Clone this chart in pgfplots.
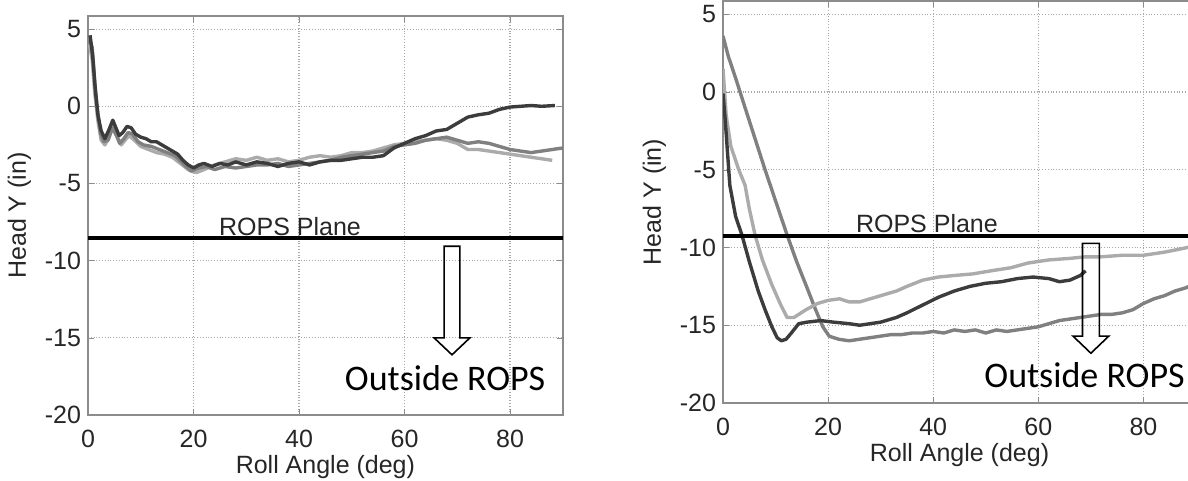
\documentclass[border=0pt]{standalone}
\usepackage{pgfplots}
\pgfplotsset{compat=1.18}
\usepackage{fontspec}
\setmainfont{Liberation Sans}
\newfontfamily\calibri{Carlito}

\definecolor{TraceDark}{HTML}{3C3C3C}
\definecolor{TraceMid}{HTML}{808080}
\definecolor{TraceLight}{HTML}{ABABAB}
\definecolor{FrameGray}{HTML}{8C8C8C}
\definecolor{GridGray}{HTML}{A8A8A8}

\pgfplotsset{
  rollpanel/.style={
    scale only axis,
    anchor=south west,
    xmin=0, xmax=90, ymin=-20, ymax=5.85,
    xtick={0,20,...,80}, ytick={-20,-15,...,5},
    grid=major,
    major grid style={densely dotted, GridGray, line width=0.6pt},
    axis line style={FrameGray, line width=0.9pt},
    tick style={FrameGray},
    tick align=inside, major tick length=3pt,
    ticklabel style={font=\fontsize{12.5}{14}\selectfont, text=black!85},
    xticklabel style={yshift=-4pt},
    /pgf/number format/assume math mode=true,
    xlabel={Roll Angle (deg)}, ylabel={Head Y (in)},
    label style={font=\fontsize{12.5}{14}\selectfont, text=black!85},
    xlabel style={yshift=3pt},
  },
  trace/.style={line width=1.7pt, line join=round},
  rops/.style={black, line width=2pt},
}

\begin{document}
\begin{tikzpicture}
\useasboundingbox (0,0) rectangle (594pt,240.5pt);
\clip (0,0) rectangle (594pt,240.5pt);

% left panel
\begin{axis}[rollpanel, at={(44pt,33pt)}, width=237.4pt, height=199.5pt]
  \addplot[trace, TraceLight] table {
    0.3 4.0
    0.8 3.0
    1.3 0.8
    1.9 -1.0
    2.5 -2.2
    3.2 -2.5
    4.0 -2.0
    4.8 -1.2
    5.6 -2.0
    6.3 -2.5
    7.0 -2.2
    7.8 -1.9
    8.8 -2.2
    10.0 -2.6
    11.5 -2.8
    13.0 -3.0
    14.5 -3.1
    16.0 -3.3
    17.5 -3.7
    19.0 -4.1
    20.5 -4.3
    22.0 -4.1
    24.0 -3.8
    26.0 -3.6
    28.0 -3.4
    30.0 -3.5
    32.0 -3.3
    34.0 -3.5
    36.0 -3.4
    38.0 -3.6
    40.0 -3.5
    42.0 -3.3
    44.0 -3.2
    46.0 -3.3
    48.0 -3.2
    50.0 -3.0
    52.0 -3.0
    54.0 -2.9
    56.0 -2.7
    58.0 -2.5
    60.0 -2.4
    62.0 -2.3
    64.0 -2.2
    66.0 -2.1
    68.0 -2.2
    70.0 -2.4
    72.0 -2.8
    74.0 -2.8
    76.0 -2.9
    78.0 -3.0
    80.0 -3.1
    82.0 -3.2
    84.0 -3.3
    86.0 -3.4
    88.0 -3.5
  };
  \addplot[trace, TraceMid] table {
    0.3 4.3
    0.8 3.8
    1.3 1.5
    1.8 -0.3
    2.4 -1.8
    3.0 -2.3
    3.8 -2.2
    4.6 -1.4
    5.4 -1.9
    6.0 -2.4
    6.8 -2.1
    7.6 -1.7
    8.4 -1.8
    9.5 -2.3
    10.5 -2.5
    12.0 -2.6
    13.5 -2.8
    15.0 -3.0
    16.5 -3.2
    18.0 -3.7
    19.5 -4.2
    21.0 -4.0
    22.5 -3.9
    24.0 -4.1
    26.0 -3.9
    28.0 -4.0
    30.0 -3.9
    32.0 -3.8
    34.0 -3.8
    36.0 -3.7
    38.0 -3.9
    40.0 -3.8
    42.0 -3.7
    44.0 -3.6
    46.0 -3.5
    48.0 -3.3
    50.0 -3.2
    52.0 -3.1
    54.0 -3.0
    56.0 -2.9
    58.0 -2.6
    60.0 -2.5
    62.0 -2.4
    64.0 -2.2
    66.0 -2.1
    68.0 -2.0
    70.0 -2.2
    72.0 -2.4
    74.0 -2.3
    76.0 -2.4
    78.0 -2.6
    80.0 -2.8
    82.0 -2.9
    84.0 -3.0
    86.0 -2.9
    88.0 -2.8
    90.0 -2.7
  };
  \addplot[trace, TraceDark] table {
    0.4 4.6
    0.9 3.2
    1.4 1.0
    1.9 -0.6
    2.5 -1.6
    3.2 -2.1
    4.0 -1.5
    4.7 -0.9
    5.3 -1.4
    5.9 -1.9
    6.6 -1.7
    7.4 -1.3
    8.2 -1.4
    9.0 -1.8
    10.0 -2.0
    11.0 -2.1
    12.0 -2.3
    13.0 -2.3
    14.0 -2.5
    15.0 -2.7
    16.0 -2.9
    17.0 -3.1
    18.0 -3.5
    19.0 -3.8
    20.0 -4.0
    21.0 -3.8
    22.0 -3.7
    23.5 -3.9
    25.0 -3.7
    26.5 -3.8
    28.0 -3.6
    30.0 -3.8
    32.0 -3.6
    34.0 -3.7
    36.0 -3.9
    38.0 -3.7
    40.0 -3.6
    42.0 -3.8
    44.0 -3.6
    46.0 -3.5
    48.0 -3.5
    50.0 -3.4
    52.0 -3.3
    54.0 -3.3
    56.0 -3.2
    58.0 -2.7
    60.0 -2.4
    62.0 -2.1
    64.0 -1.9
    66.0 -1.6
    68.0 -1.5
    70.0 -1.1
    72.0 -0.7
    74.0 -0.55
    76.0 -0.45
    78.0 -0.2
    80.0 -0.05
    82.0 0.0
    84.0 0.05
    86.0 0.0
    88.5 0.05
  };
  \addplot[rops] coordinates {(0,-8.55) (90,-8.55)};
  \node[anchor=base, yshift=1.3pt, font=\fontsize{12.5}{14}\selectfont, text=black!85]
    at (axis cs:38.3,-8.55) {ROPS Plane};
  \draw[black, line width=0.8pt, line join=miter]
    (axis cs:67.5,-9.07) -- (axis cs:70.5,-9.07) -- (axis cs:70.5,-15.0)
    -- (axis cs:72.4,-15.0) -- (axis cs:69,-16.1) -- (axis cs:65.6,-15.0)
    -- (axis cs:67.5,-15.0) -- cycle;
  \node[font=\calibri\fontsize{18}{20}\selectfont] at (axis cs:67.7,-17.6) {Outside ROPS};
\end{axis}

% right panel
\begin{axis}[rollpanel, at={(361.5pt,39pt)}, width=236.5pt, height=201pt]
  \addplot[trace, TraceMid] table {
    0 3.6
    1.0 2.3
    2.3 1.0
    4.0 -0.8
    6.0 -2.9
    8.0 -5.0
    10.0 -7.0
    12.2 -9.2
    14.0 -10.9
    16.0 -12.6
    17.5 -13.9
    19.0 -15.1
    20.2 -15.7
    22.0 -15.9
    24.0 -16.0
    26.0 -15.9
    28.0 -15.8
    30.0 -15.7
    32.0 -15.6
    34.0 -15.6
    36.0 -15.5
    38.0 -15.5
    40.0 -15.4
    42.0 -15.5
    44.0 -15.3
    46.0 -15.4
    48.0 -15.3
    50.0 -15.5
    52.0 -15.3
    54.0 -15.4
    56.0 -15.3
    58.0 -15.2
    60.0 -15.1
    62.0 -14.9
    64.0 -14.7
    66.0 -14.6
    68.0 -14.5
    70.0 -14.4
    72.0 -14.3
    74.0 -14.3
    76.0 -14.2
    78.0 -14.0
    80.0 -13.6
    82.0 -13.3
    84.0 -13.1
    86.0 -12.8
    88.0 -12.6
    90.0 -12.3
  };
  \addplot[trace, TraceLight] table {
    0 1.5
    0.6 -1.5
    1.5 -3.5
    3.0 -5.0
    4.2 -6.0
    5.0 -7.5
    6.1 -9.2
    7.5 -10.8
    9.3 -12.4
    11.0 -13.7
    12.2 -14.5
    13.5 -14.5
    15.8 -14.0
    18.0 -13.6
    20.0 -13.4
    22.2 -13.3
    24.0 -13.5
    26.0 -13.5
    28.0 -13.3
    30.0 -13.1
    33.0 -12.8
    35.0 -12.5
    38.0 -12.1
    41.0 -11.9
    44.0 -11.8
    47.5 -11.7
    51.0 -11.5
    54.8 -11.3
    58.0 -11.0
    62.0 -10.8
    66.0 -10.7
    69.0 -10.6
    72.0 -10.6
    76.0 -10.5
    80.0 -10.5
    84.0 -10.3
    88.4 -10.0
    90.0 -9.8
  };
  \addplot[trace, TraceDark] table {
    0 -0.1
    0.4 -1.7
    1.3 -6.0
    2.4 -8.0
    3.6 -9.2
    5.0 -10.9
    6.7 -12.8
    8.0 -14.0
    9.3 -15.1
    10.3 -15.8
    11.1 -16.0
    12.0 -15.9
    13.0 -15.5
    14.4 -14.9
    16.0 -14.8
    18.6 -14.7
    21.0 -14.8
    24.0 -14.9
    26.0 -15.0
    28.0 -14.9
    30.0 -14.8
    33.0 -14.5
    35.0 -14.2
    38.0 -13.7
    41.0 -13.2
    44.0 -12.8
    47.0 -12.5
    50.0 -12.3
    53.0 -12.2
    56.0 -12.0
    59.0 -11.9
    62.0 -12.0
    64.0 -12.2
    66.0 -12.1
    68.0 -11.8
    69.0 -11.5
  };
  \addplot[rops] coordinates {(0,-9.23) (90,-9.23)};
  \node[anchor=base, yshift=1.3pt, font=\fontsize{12.5}{14}\selectfont, text=black!85]
    at (axis cs:38.8,-9.23) {ROPS Plane};
  \draw[black, line width=0.8pt, line join=miter]
    (axis cs:68.4,-9.74) -- (axis cs:71.6,-9.74) -- (axis cs:71.6,-15.7)
    -- (axis cs:73.4,-15.7) -- (axis cs:70,-16.8) -- (axis cs:66.6,-15.7)
    -- (axis cs:68.4,-15.7) -- cycle;
  \node[font=\calibri\fontsize{18}{20}\selectfont] at (axis cs:68.8,-18.2) {Outside ROPS};
\end{axis}
\end{tikzpicture}
\end{document}
